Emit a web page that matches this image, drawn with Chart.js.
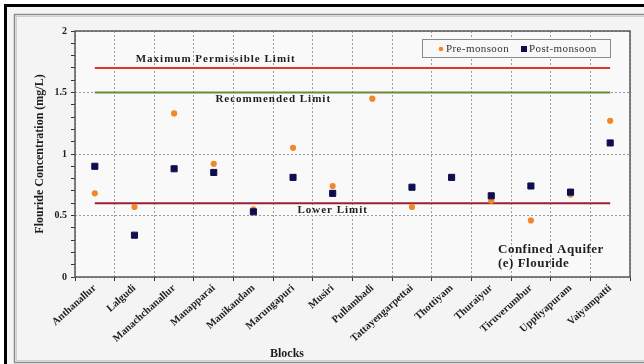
<!DOCTYPE html>
<html>
<head>
<meta charset="utf-8">
<script src="https://cdn.jsdelivr.net/npm/chart.js@4/dist/chart.umd.min.js"></script>
<style>
  html, body { margin: 0; padding: 0; background: #ffffff; }
  #wrap { width: 644px; height: 364px; position: relative; }
</style>
</head>
<body>
<div id="wrap"><canvas id="c" width="644" height="364"></canvas></div>
<script>
// Blocks of the district
const blocks = ['Anthanallur', 'Lalgudi', 'Manachchanallur', 'Manapparai', 'Manikandam',
  'Marungapuri', 'Musiri', 'Pullambadi', 'Tattayengarpettai', 'Thottiyam',
  'Thuraiyur', 'Tiruverumbur', 'Uppliyapuram', 'Vaiyampatti'];

// Fluoride concentration (mg/L), confined aquifer
const preMonsoon  = [0.68, 0.57, 1.33, 0.92, 0.55, 1.05, 0.74, 1.45, 0.57, 0.81, 0.62, 0.46, 0.67, 1.27];
const postMonsoon = [0.90, 0.34, 0.88, 0.85, 0.53, 0.81, 0.68, null, 0.73, 0.81, 0.66, 0.74, 0.69, 1.09];

// Guideline limits (mg/L)
const maxPermissible = 1.7;
const recommended = 1.5;
const lowerLimit = 0.6;

const yTicks = [0, 0.5, 1, 1.5, 2];

const SERIF = '"Liberation Serif", "Times New Roman", serif';
const INK = '#1e1e1e';
const first = blocks[0], last = blocks[blocks.length - 1];

function limitLine(label, value, color) {
  return {
    label, type: 'line', order: 2,
    data: [{ x: first, y: value }, { x: last, y: value }],
    borderColor: color, borderWidth: 2, pointRadius: 0, fill: false,
    isLimit: true
  };
}

const frame = {
  id: 'frame',
  beforeDraw(chart) {
    const ctx = chart.ctx, a = chart.chartArea;
    ctx.save();
    ctx.fillStyle = '#ffffff';
    ctx.fillRect(0, 0, chart.width, chart.height);
    ctx.fillStyle = '#f4f4f4';
    ctx.fillRect(4, 4, chart.width, chart.height);
    ctx.fillStyle = '#000000';
    ctx.fillRect(4, 4, chart.width, 3);
    ctx.fillRect(4, 4, 3, chart.height);
    ctx.strokeStyle = '#8c8c8c';
    ctx.lineWidth = 1.5;
    ctx.strokeRect(14.5, 14.5, chart.width, chart.height - 16);
    ctx.strokeStyle = '#cfcfcf';
    ctx.lineWidth = 1;
    ctx.strokeRect(16.5, 16.5, chart.width, chart.height - 20);
    ctx.fillStyle = '#f9f9f9';
    ctx.fillRect(a.left, a.top, a.right - a.left, a.bottom - a.top);
    ctx.restore();
  },
  afterDraw(chart) {
    const ctx = chart.ctx, a = chart.chartArea;
    const xs = chart.scales.x, ys = chart.scales.y;
    ctx.save();
    // plot frame
    ctx.strokeStyle = '#5a5a5a';
    ctx.lineWidth = 1.5;
    ctx.strokeRect(a.left, a.top, a.right - a.left, a.bottom - a.top);

    // limit captions
    ctx.font = 'bold 11px ' + SERIF;
    ctx.letterSpacing = '1px';
    ctx.textAlign = 'center';
    ctx.textBaseline = 'middle';
    ctx.fillStyle = INK;
    ctx.fillText('Maximum Permissible Limit', xs.getPixelForValue(3) + 2, ys.getPixelForValue(maxPermissible) - 9);
    ctx.fillText('Recommended Limit', (xs.getPixelForValue(4) + xs.getPixelForValue(5)) / 2, ys.getPixelForValue(recommended) + 7);
    ctx.fillText('Lower Limit', xs.getPixelForValue(6), ys.getPixelForValue(lowerLimit) + 7);

    // legend
    const lx = a.right - 208, ly = a.top + 8, lw = 188, lh = 18;
    ctx.letterSpacing = '0px';
    ctx.fillStyle = '#f8f8f8';
    ctx.fillRect(lx, ly, lw, lh);
    ctx.strokeStyle = '#8a8a8a';
    ctx.lineWidth = 1;
    ctx.strokeRect(lx + 0.5, ly + 0.5, lw, lh);
    const series = chart.data.datasets.filter(d => !d.isLimit).sort((p, q) => q.order - p.order);
    let cx = lx + 19;
    ctx.font = '11px ' + SERIF;
    ctx.letterSpacing = '0.4px';
    ctx.textAlign = 'left';
    series.forEach(ds => {
      const cy = ly + lh / 2 + 1;
      ctx.fillStyle = ds.backgroundColor;
      if (ds.pointStyle === 'rect') {
        ctx.fillRect(cx - 3, cy - 3, 6, 6);
      } else {
        ctx.beginPath(); ctx.arc(cx, cy, 2.3, 0, Math.PI * 2); ctx.fill();
      }
      ctx.fillStyle = '#333333';
      ctx.fillText(ds.label, cx + 5, cy);
      cx += 83;
    });

    // annotation
    ctx.font = 'bold 13px ' + SERIF;
    ctx.letterSpacing = '0.5px';
    ctx.fillStyle = INK;
    ctx.fillText('Confined Aquifer', a.right - 132, a.bottom - 27);
    ctx.fillText('(e) Flouride', a.right - 132, a.bottom - 13);

    // x axis title
    ctx.font = 'bold 12px ' + SERIF;
    ctx.letterSpacing = '0px';
    ctx.textAlign = 'center';
    ctx.fillText('Blocks', 287, 354);
    ctx.restore();
  }
};

const isMajor = v => Math.abs(v * 2 - Math.round(v * 2)) < 1e-6;

new Chart(document.getElementById('c'), {
  type: 'line',
  data: {
    labels: blocks,
    datasets: [
      {
        label: 'Pre-monsoon', data: preMonsoon, order: 1, showLine: false,
        pointStyle: 'circle', pointRadius: 3.1, pointBorderWidth: 0,
        backgroundColor: '#f0882a', borderColor: '#f0882a'
      },
      {
        label: 'Post-monsoon', data: postMonsoon, order: 0, showLine: false,
        pointStyle: 'rect', pointRadius: 4.3, pointBorderWidth: 1,
        backgroundColor: '#0d0d4f', borderColor: '#0d0d4f'
      },
      limitLine('Maximum Permissible Limit', maxPermissible, '#e2322c'),
      limitLine('Recommended Limit', recommended, '#6d8a3a'),
      limitLine('Lower Limit', lowerLimit, '#9c1f36')
    ]
  },
  options: {
    responsive: false,
    animation: false,
    layout: { padding: { left: 0, top: 31, right: 14, bottom: 0 } },
    plugins: { legend: { display: false }, tooltip: { enabled: false } },
    scales: {
      x: {
        type: 'category', offset: true,
        grid: { offset: true, color: '#9a9a9a', lineWidth: 1, tickLength: 4, tickColor: '#333', tickBorderDash: [1, 0] },
        border: { display: false, dash: [2, 2] },
        ticks: { autoSkip: false, minRotation: 42, maxRotation: 42, padding: 1, color: INK,
          font: { family: SERIF, size: 10.5, weight: 'bold' } },
        afterFit(s) { s.height = 87; }
      },
      y: {
        min: 0, max: 2,
        grid: {
          color: c => (c.tick && isMajor(c.tick.value)) ? '#9a9a9a' : 'rgba(0,0,0,0)',
          tickLength: 4, tickColor: '#333', tickBorderDash: [1, 0]
        },
        border: { display: false, dash: [2, 2] },
        ticks: {
          stepSize: 0.1, autoSkip: false, padding: 4, color: INK,
          font: { family: SERIF, size: 10, weight: 'bold' },
          callback: v => (isMajor(v) && yTicks.includes(Math.round(v * 2) / 2)) ? String(Math.round(v * 2) / 2) : ''
        },
        title: { display: true, text: 'Flouride Concentration (mg/L)', color: INK,
          font: { family: SERIF, size: 12, weight: 'bold' }, padding: { top: 33, bottom: 0 } },
        afterFit(s) { s.width = 75; }
      }
    }
  },
  plugins: [frame]
});
</script>
</body>
</html>
